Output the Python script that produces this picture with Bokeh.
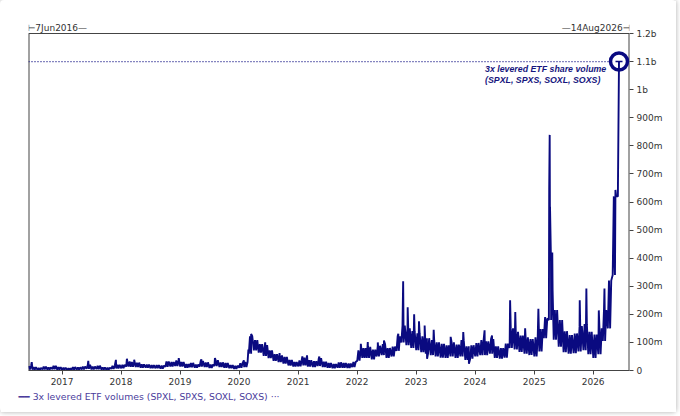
import pandas as pd
from bokeh.plotting import figure
from bokeh.models import (Range1d, FixedTicker, Label, Title,
                          ColumnDataSource, DatetimeTickFormatter)
from bokeh.embed import file_html
from bokeh.resources import INLINE

# ---------------- data (millions of shares) ----------------
first_month = "2016-06-01"
# monthly lower / upper edge of the daily volume band, Jun 2016 .. May 2026
band_low = [
    4, 3, 2, 4, 3, 5, 3,                                   # 2016 Jun-Dec
    2, 2, 3, 3, 4, 6, 4, 5, 3, 3, 6, 7,                    # 2017
    8, 14, 13, 12, 10, 10, 8, 8, 7, 13, 14, 16,            # 2018
    14, 10, 12, 10, 14, 12, 9, 16, 12, 10, 8, 6,           # 2019
    10, 12, 60, 72, 64, 52, 44, 34, 30, 25, 18, 14,        # 2020
    15, 18, 14, 12, 16, 12, 10, 8, 10, 10, 9, 12,          # 2021
    35, 45, 45, 40, 50, 55, 45, 50, 70, 100, 90, 80,       # 2022
    72, 65, 60, 55, 50, 46, 45, 50, 45, 50, 38, 42,        # 2023
    50, 55, 55, 60, 45, 42, 46, 80, 75, 66, 60, 55,        # 2024
    50, 68, 115, 180, 110, 85, 65, 60, 62, 68, 72, 58,     # 2025
    45, 58, 105, 150, 340,                                 # 2026 Jan-May
]
band_high = [
    16, 12, 9, 14, 11, 17, 12,
    10, 8, 12, 11, 14, 20, 14, 17, 11, 10, 17, 20,
    20, 32, 30, 28, 22, 21, 19, 19, 17, 32, 30, 36,
    30, 23, 27, 21, 34, 29, 21, 37, 29, 27, 19, 17,
    26, 30, 122, 108, 94, 90, 72, 58, 54, 48, 38, 30,
    36, 46, 37, 33, 44, 31, 27, 23, 29, 27, 25, 30,
    72, 80, 84, 74, 88, 94, 80, 85, 122, 160, 150, 140,
    132, 122, 115, 108, 100, 95, 90, 100, 92, 108, 86, 90,
    98, 108, 104, 112, 86, 80, 96, 150, 138, 124, 118, 112,
    118, 148, 185, 420, 215, 180, 140, 126, 132, 158, 165, 138,
    128, 150, 215, 320, 620,
]
spike_dates = [
    "2016-06-27", "2017-06-12", "2017-11-30", "2018-02-06", "2018-03-23",
    "2018-12-24", "2019-05-13", "2019-08-05", "2020-01-31", "2020-02-28",
    "2020-03-16", "2020-06-11", "2020-09-08", "2021-01-27", "2021-02-25",
    "2021-05-12", "2022-01-24", "2022-03-08", "2022-05-09", "2022-06-16",
    "2022-09-13", "2022-10-13", "2022-11-10", "2022-12-20", "2023-01-19",
    "2023-02-23", "2023-03-10", "2023-04-20", "2023-08-03", "2023-10-20",
    "2023-11-24", "2024-02-29", "2024-04-15", "2024-08-05", "2024-09-06",
    "2024-11-06", "2025-01-27", "2025-03-10", "2025-04-04", "2025-04-07",
    "2025-04-09", "2025-04-15", "2025-04-25", "2025-10-10", "2025-11-20",
    "2026-02-05", "2026-03-12", "2026-05-12", "2026-05-19", "2026-06-03",
    "2026-06-10",
]
spike_values = [
    30, 34, 38, 42, 38,
    44, 40, 44, 36, 75,
    130, 100, 62, 50, 54,
    50, 95, 101, 100, 107,
    131, 318, 225, 200, 175,
    160, 42, 145, 120, 137,
    24, 143, 125, 250, 208,
    150, 220, 190, 650, 839,
    583, 390, 286, 250, 292,
    214, 292, 417, 643, 620,
    1100,
]
range_start = "2016-06-07"
range_end = "2026-08-14"
year_ticks = [2017, 2018, 2019, 2020, 2021, 2022, 2023, 2024, 2025, 2026]
y_tick_values = [0, 100, 200, 300, 400, 500, 600, 700, 800, 900, 1000, 1100, 1200]
y_tick_labels = ["0", "100m", "200m", "300m", "400m", "500m", "600m", "700m",
                 "800m", "900m", "1b", "1.1b", "1.2b"]
series_label = "3x levered ETF volumes (SPXL, SPXS, SOXL, SOXS)"
note_text = "3x levered ETF share volume\n(SPXL, SPXS, SOXL, SOXS)"
start_label = "\u22a27Jun2016\u2014"
end_label = "\u201414Aug2026\u22a3"

# ---------------- build series ----------------
months = pd.date_range(first_month, periods=len(band_low), freq="MS")
dates, vols = [], []
for m, lo, hi in zip(months, band_low, band_high):
    for d, v in ((1, lo), (8, hi), (15, lo), (22, hi)):
        dates.append(m + pd.Timedelta(days=d))
        vols.append(v)
df = pd.DataFrame({"date": dates + list(pd.to_datetime(spike_dates)),
                   "vol": vols + spike_values})
x0 = pd.Timestamp(range_start)
x1 = pd.Timestamp(range_end)
df = df[df["date"] >= x0]
df = df.sort_values("date", kind="stable").reset_index(drop=True)
src = ColumnDataSource(df)

last_date = df["date"].iloc[-1]
last_val = df["vol"].iloc[-1]
y_top = y_tick_values[-1]

NAVY = "#0a0a80"
FRAME = "#444444"
FONT = "DejaVu Sans"

W, H = 676, 412
B_LEFT, B_RIGHT, B_TOP, B_BOTTOM = 28, 47, 18, 42
STRIP = 15  # px strip above the 1.2b line that holds the range labels
frame_h = H - B_TOP - B_BOTTOM
y_end = y_top * frame_h / (frame_h - STRIP)

p = figure(width=W, height=H, x_axis_type="datetime",
           x_range=Range1d(x0, x1), y_range=Range1d(0, y_end),
           y_axis_location="right", output_backend="svg", toolbar_location=None,
           min_border_left=B_LEFT, min_border_right=B_RIGHT,
           min_border_top=B_TOP, min_border_bottom=B_BOTTOM)
p.styles = {"box-shadow": "0 0 4px 1px #c4c4c4", "border-radius": "4px"}
p.background_fill_color = "white"
p.border_fill_color = "white"
p.outline_line_color = None
p.xgrid.grid_line_color = None
p.ygrid.grid_line_color = None

# plot box (top, left, right) up to the 1.2b level
p.line([x0, x1], [y_top, y_top], line_color=FRAME, line_width=1)
p.line([x0, x0], [0, y_top], line_color=FRAME, line_width=2)
p.line([x1, x1], [0, y_top], line_color=FRAME, line_width=2)

# reference dotted level
dotted = p.line([x0, last_date], [last_val, last_val], line_color=NAVY,
                line_width=1.2, line_dash="1 2")
# end circle
p.scatter([last_date], [last_val], size=17, marker="circle",
          fill_color="white", line_color=NAVY, line_width=3.5)
main = p.line("date", "vol", source=src, line_color=NAVY, line_width=1.9)
p.scatter([last_date], [last_val], size=7, marker="dash",
          line_color=NAVY, line_width=1.5)

# axes
xax = p.xaxis[0]
xax.ticker = FixedTicker(ticks=[pd.Timestamp(f"{y}-01-01").timestamp() * 1000
                                for y in year_ticks])
xax.formatter = DatetimeTickFormatter(years="%Y", months="%Y", days="%Y",
                                      hours="%Y", minutes="%Y", seconds="%Y",
                                      milliseconds="%Y", microseconds="%Y")
yax = p.yaxis[0]
yax.ticker = FixedTicker(ticks=y_tick_values)
yax.major_label_overrides = {v: l for v, l in zip(y_tick_values, y_tick_labels)}
yax.axis_line_color = None
xax.axis_line_color = FRAME
for ax in (xax, yax):
    ax.major_tick_line_color = FRAME
    ax.major_tick_out = 4
    ax.major_tick_in = 0
    ax.minor_tick_line_color = None
    ax.major_label_text_font = FONT
    ax.major_label_text_font_size = "9px"
    ax.major_label_text_color = "#333333"
    ax.major_label_standoff = 3

# top range labels
p.add_layout(Label(x=x0, y=y_top, text=start_label, text_align="left",
                   text_baseline="bottom", y_offset=1, x_offset=-1,
                   text_font=FONT, text_font_size="9px", text_color="#333333"))
p.add_layout(Label(x=x1, y=y_top, text=end_label, text_align="right",
                   text_baseline="bottom", y_offset=1, x_offset=1,
                   text_font=FONT, text_font_size="9px", text_color="#333333"))
# annotation
p.add_layout(Label(x=last_date, y=last_val, text=note_text, text_align="left",
                   text_baseline="top", x_offset=-134, y_offset=-2,
                   text_font="Liberation Sans", text_font_style="bold italic",
                   text_font_size="8.8px", text_line_height=1.1,
                   text_color="#16167e"))

# legend line as a text entry below the axis
legend_title = Title(text="\u2501\u2501 " + series_label + " \u00b7\u00b7\u00b7",
                     align="left", offset=-10, standoff=2,
                     text_font=FONT, text_font_size="9.3px",
                     text_font_style="normal", text_color="#4a3c9c")
p.add_layout(legend_title, "below")

open("out.html", "w").write(file_html(p, INLINE))
